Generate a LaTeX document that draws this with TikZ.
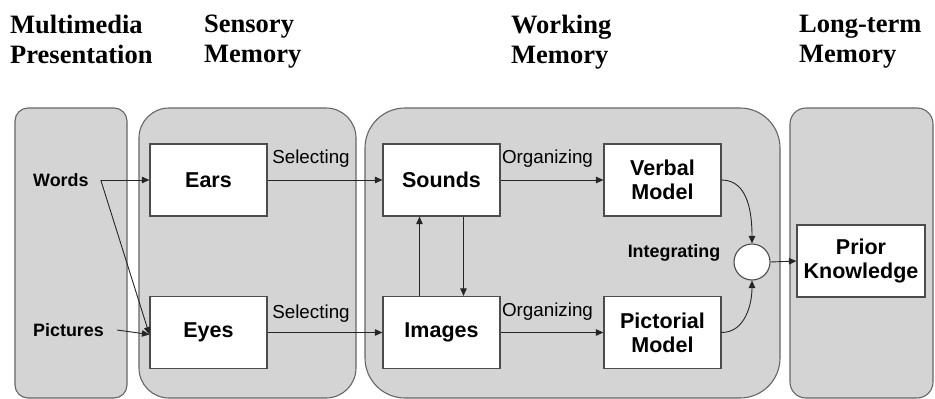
\documentclass[tikz,border=0pt]{standalone}
\usepackage{fontspec}
\setmainfont{Liberation Serif}
\setsansfont{Liberation Sans}
\usetikzlibrary{arrows.meta}

\begin{document}
\begin{tikzpicture}[x=1pt,y=-1pt,
  panel/.style={draw=black!60, fill=black!17, line width=1.1pt},
  box/.style={draw=black!70, fill=white, line width=1.2pt, minimum width=117pt,
    minimum height=72pt, inner sep=0, align=center,
    font=\sffamily\bfseries\fontsize{21.5}{24}\selectfont},
  lbl/.style={inner sep=0, font=\sffamily\fontsize{18.8}{22}\selectfont},
  src/.style={inner sep=0, font=\sffamily\bfseries\fontsize{17.9}{20}\selectfont},
  head/.style={inner sep=0, anchor=north west, align=left,
    font=\bfseries\fontsize{26.5}{30}\selectfont},
  arr/.style={-{Triangle[length=7.5pt,width=6.5pt]}, line width=0.9pt, draw=black!85}]

\useasboundingbox (0,0) rectangle (935,399);

% column headings
\node[head] (hmm) at (10,15) {Multimedia\\Presentation};
\node[head] (hsm) at (204,15) {Sensory\\Memory};
\node[head] (hwm) at (511,15) {Working\\Memory};
\node[head] (hlm) at (799,15) {Long-term\\Memory};

% grey stage panels
\begin{scope}
  \clip (0,0) rectangle (935,399);
  \draw[panel, rounded corners=13pt] (15,108) rectangle (127,398);
  \draw[panel, rounded corners=30pt] (139,108) rectangle (356,398);
  \draw[panel, rounded corners=40pt] (365,108) rectangle (780,398);
  \draw[panel, rounded corners=16pt] (790,108) rectangle (933,398);
\end{scope}

% processing boxes
\node[box] (ears)   at (208.5,180) {Ears};
\node[box] (eyes)   at (208.5,332.5) {Eyes};
\node[box] (sounds) at (441.5,180) {Sounds};
\node[box] (images) at (441.5,332.5) {Images};
\node[box] (verbal) at (662.5,180) {Verbal\\Model};
\node[box] (pict)   at (662.5,332.5) {Pictorial\\Model};
\node[box, minimum width=128pt, minimum height=72pt] (prior) at (861,261) {Prior\\Knowledge};
\node[circle, draw=black!70, fill=white, line width=1.1pt, minimum size=36pt, inner sep=0] (integ) at (752,262) {};

% input labels
\node[src, anchor=west] (words) at (33,180) {Words};
\node[src, anchor=west] (pics)  at (33,330) {Pictures};

% process labels
\node[lbl] (sel1) at (311,159) {Selecting};
\node[lbl] (sel2) at (311,314) {Selecting};
\node[lbl] (org1) at (547.5,159) {Organizing};
\node[lbl] (org2) at (547.5,312) {Organizing};
\node[src] (intl) at (674,253) {Integrating};

% connectors
\coordinate (wsplit) at ([xshift=12pt]words.east);
\draw[arr] (wsplit) -- (ears.west);
\draw[arr] (wsplit) -- ([yshift=-2pt]eyes.west);
\draw[arr] ([xshift=13pt]pics.east) -- ([yshift=-2pt]eyes.west);
\draw[arr] (ears.east) -- (sounds.west);
\draw[arr] (eyes.east) -- (images.west);
\draw[arr] (sounds.east) -- (verbal.west);
\draw[arr] (images.east) -- (pict.west);
\draw[arr] ([xshift=-22pt]images.north) -- ([xshift=-22pt]sounds.south);
\draw[arr] ([xshift=22pt]sounds.south) -- ([xshift=22pt]images.north);
\draw[arr] (verbal.east) to[out=0, in=90] (integ.north);
\draw[arr] (pict.east) to[out=0, in=-90] (integ.south);
\draw[arr] (integ.east) -- (prior.west);
\end{tikzpicture}
\end{document}
